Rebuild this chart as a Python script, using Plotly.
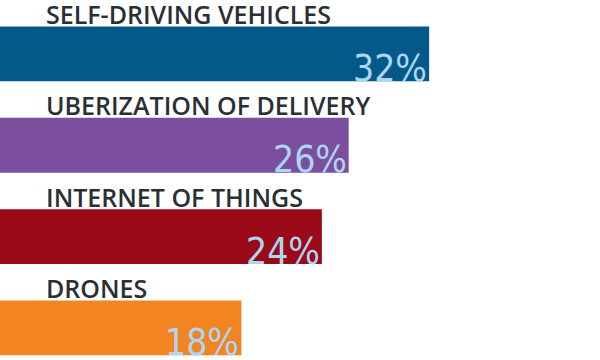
import plotly.graph_objects as go

categories = ["SELF-DRIVING VEHICLES", "UBERIZATION OF DELIVERY", "INTERNET OF THINGS", "DRONES"]
values = [32, 26, 24, 18]
value_labels = ["32%", "26%", "24%", "18%"]
colors = ["#03598a", "#7b4f9e", "#9a0a18", "#f28522"]

fig = go.Figure()
fig.add_trace(go.Bar(
    x=values, y=categories, orientation="h",
    marker=dict(color=colors, line=dict(width=0)),
    width=0.6, hoverinfo="skip",
))

for cat, v, lab in zip(categories, values, value_labels):
    fig.add_annotation(
        x=0, y=cat, xref="x", yref="y", text=cat, showarrow=False,
        xanchor="left", yanchor="bottom", xshift=44, yshift=21,
        font=dict(family="Open Sans", size=25, color="#2a2f35", weight=600),
    )
    fig.add_annotation(
        x=v, y=cat, xref="x", yref="y", text=lab, showarrow=False,
        xanchor="right", yanchor="bottom", xshift=0, yshift=-38,
        font=dict(family="DejaVu Sans Condensed", size=37, color="#acd6f2"),
    )

fig.update_layout(
    width=600, height=360,
    margin=dict(l=0, r=0, t=0, b=0),
    paper_bgcolor="white", plot_bgcolor="white",
    showlegend=False,
    xaxis=dict(range=[0, 44.74], visible=False, fixedrange=True),
    yaxis=dict(range=[3.352, -0.591], visible=False, fixedrange=True,
               categoryorder="array", categoryarray=categories),
)

fig.write_html("out.html", config={"displayModeBar": False},
               post_script="document.body.style.margin='0';")
